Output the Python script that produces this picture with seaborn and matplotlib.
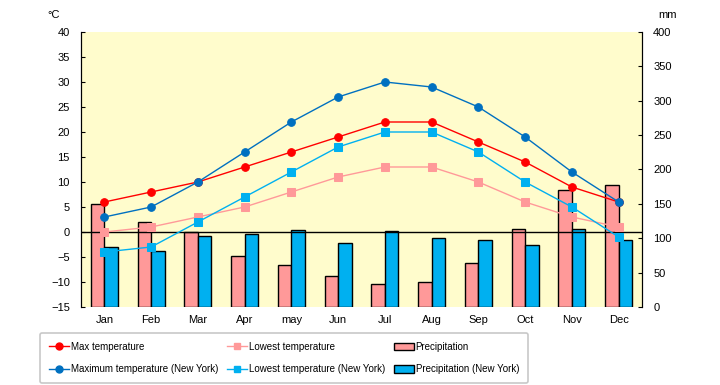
import matplotlib
matplotlib.use("Agg")
from matplotlib import pyplot as plt
from matplotlib.lines import Line2D
from matplotlib.patches import Patch
import pandas as pd
import seaborn as sns

months = ["Jan", "Feb", "Mar", "Apr", "may", "Jun", "Jul", "Aug", "Sep", "Oct", "Nov", "Dec"]

max_temp = [6, 8, 10, 13, 16, 19, 22, 22, 18, 14, 9, 6]
low_temp = [0, 1, 3, 5, 8, 11, 13, 13, 10, 6, 3, 1]
max_temp_ny = [3, 5, 10, 16, 22, 27, 30, 29, 25, 19, 12, 6]
low_temp_ny = [-4, -3, 2, 7, 12, 17, 20, 20, 16, 10, 5, -1]

precip = [150, 124, 109, 74, 61, 45, 34, 37, 64, 114, 170, 178]
precip_ny = [87, 82, 103, 106, 112, 93, 110, 101, 98, 90, 113, 98]

line_names = ["Max temperature", "Lowest temperature",
              "Maximum temperature (New York)", "Lowest temperature (New York)"]
bar_names = ["Precipitation", "Precipitation (New York)"]

line_colors = {line_names[0]: "#FF0000", line_names[1]: "#FF9999",
               line_names[2]: "#0070C0", line_names[3]: "#00B0F0"}
line_markers = ["o", "s", "o", "s"]
bar_colors = {bar_names[0]: "#FF9999", bar_names[1]: "#00B0F0"}

temps = pd.DataFrame({
    "month": months * 4,
    "value": max_temp + low_temp + max_temp_ny + low_temp_ny,
    "series": [n for n in line_names for _ in months],
})
rain = pd.DataFrame({
    "month": months * 2,
    "value": precip + precip_ny,
    "series": [n for n in bar_names for _ in months],
})

plt.rcParams["font.family"] = ["Liberation Sans", "DejaVu Sans"]
plt.rcParams["font.size"] = 8

fig = plt.figure(figsize=(7.2, 3.85), dpi=100)
ax_bar = fig.add_axes([0.1125, 0.2026, 0.7792, 0.7143])
ax_bar.set_facecolor("#FFFCCC")

sns.barplot(data=rain, x="month", y="value", hue="series", order=months,
            hue_order=bar_names, palette=bar_colors, width=0.58,
            edgecolor="black", linewidth=1, saturation=1, legend=False, ax=ax_bar)
ax_bar.set_ylim(0, 400)
ax_bar.set_yticks(range(0, 401, 50))
ax_bar.set_xlim(-0.5, 11.5)
ax_bar.set_xlabel("")
ax_bar.set_ylabel("")

ax_t = ax_bar.twinx()
# twinx puts the host ticks on the left, so swap them round afterwards
ax_bar.yaxis.tick_right()
ax_t.yaxis.tick_left()
ax_t.axhline(0, color="black", linewidth=1, zorder=1)
sns.pointplot(data=temps, x="month", y="value", hue="series", order=months,
              hue_order=line_names, palette=line_colors, markers=line_markers,
              linestyles="-", markersize=5.5, linewidth=1, errorbar=None,
              legend=False, ax=ax_t)
ax_t.set_ylim(-15, 40)
ax_t.set_yticks(range(-15, 41, 5))
ax_t.set_xlim(-0.5, 11.5)
ax_t.set_ylabel("")
ax_t.set_xlabel("")

for a in (ax_bar, ax_t):
    a.spines["top"].set_visible(False)
    a.spines["bottom"].set_visible(False)
    a.tick_params(axis="y", direction="in", length=3, pad=8)
    a.tick_params(axis="x", length=0, pad=6)

fig.text(0.074, 0.96, "°C", ha="center", va="center")
fig.text(0.927, 0.962, "mm", ha="center", va="center")

handles = []
for name, m in zip(line_names, line_markers):
    handles.append(Line2D([], [], color=line_colors[name], marker=m,
                          markersize=5, linewidth=1, label=name))
for name in bar_names:
    handles.append(Patch(facecolor=bar_colors[name], edgecolor="black", label=name))
order = [0, 2, 1, 3, 4, 5]
leg = fig.legend([handles[i] for i in order], [handles[i].get_label() for i in order],
                 ncol=3, loc="upper left", bbox_to_anchor=(40 / 720, 1 - 333 / 385),
                 frameon=True, fancybox=True, edgecolor="#C8C8C8", framealpha=1,
                 handlelength=2.1, handleheight=0.8, handletextpad=0.15,
                 columnspacing=0.9, borderaxespad=0, borderpad=0.9,
                 labelspacing=1.3, fontsize=7)
leg.get_frame().set_linewidth(1.2)

fig.savefig("out.png", dpi=100)
